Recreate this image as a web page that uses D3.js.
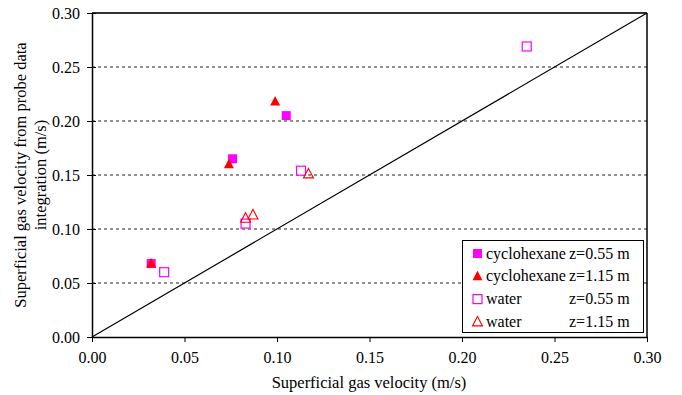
<!DOCTYPE html>
<html>
<head>
<meta charset="utf-8">
<script src="https://cdn.jsdelivr.net/npm/d3@7"></script>
<style>
  body { margin: 0; background: #fff; }
  svg text { font-family: "Liberation Serif", "DejaVu Serif", serif; }
</style>
</head>
<body>
<svg id="chart" width="682" height="395"></svg>
<script>
(function () {
  'use strict';

  // data (m/s)
  var cycloLowX = [0.032, 0.076, 0.105];
  var cycloLowY = [0.068, 0.165, 0.205];
  var cycloHighX = [0.032, 0.074, 0.099];
  var cycloHighY = [0.068, 0.160, 0.218];
  var waterLowX = [0.039, 0.083, 0.113, 0.235];
  var waterLowY = [0.060, 0.105, 0.154, 0.269];
  var waterHighX = [0.083, 0.087, 0.117];
  var waterHighY = [0.110, 0.113, 0.151];

  var tickValues = [0, 0.05, 0.10, 0.15, 0.20, 0.25, 0.30];
  var legendNames = ['cyclohexane', 'cyclohexane', 'water', 'water'];
  var legendZ = ['z=0.55 m', 'z=1.15 m', 'z=0.55 m', 'z=1.15 m'];

  var magenta = '#ff00ff';
  var red = '#ff0000';
  var serif = '"Liberation Serif", "DejaVu Serif", serif';

  var series = [
    { xs: cycloLowX, ys: cycloLowY, shape: 'square', filled: true, color: magenta },
    { xs: cycloHighX, ys: cycloHighY, shape: 'triangle', filled: true, color: red },
    { xs: waterLowX, ys: waterLowY, shape: 'square', filled: false, color: magenta },
    { xs: waterHighX, ys: waterHighY, shape: 'triangle', filled: false, color: red }
  ];

  var left = 92, right = 647, top = 13, bottom = 337;
  var svg = d3.select('#chart');

  var x = d3.scaleLinear().domain([0, 0.30]).range([left, right]);
  var y = d3.scaleLinear().domain([0, 0.30]).range([bottom, top]);

  // dashed grid
  svg.append('g').selectAll('line')
    .data(tickValues.filter(function (t) { return t > 0 && t < 0.3; }))
    .enter().append('line')
    .attr('x1', left).attr('x2', right)
    .attr('y1', function (d) { return y(d); })
    .attr('y2', function (d) { return y(d); })
    .attr('stroke', '#222').attr('stroke-width', 1)
    .attr('stroke-dasharray', '3,3');

  // frame
  svg.append('line').attr('x1', left).attr('x2', right).attr('y1', top).attr('y2', top)
    .attr('stroke', '#333').attr('stroke-width', 2);
  svg.append('line').attr('x1', right).attr('x2', right).attr('y1', top).attr('y2', bottom)
    .attr('stroke', '#000').attr('stroke-width', 1.5);

  // 1:1 line
  svg.append('line')
    .attr('x1', x(0)).attr('y1', y(0)).attr('x2', x(0.30)).attr('y2', y(0.30))
    .attr('stroke', '#000').attr('stroke-width', 1.2);

  var fmt = d3.format('.2f');

  var xAxis = svg.append('g').attr('transform', 'translate(0,' + bottom + ')')
    .call(d3.axisBottom(x).tickValues(tickValues).tickFormat(fmt).tickSize(5).tickSizeOuter(0));
  var yAxis = svg.append('g').attr('transform', 'translate(' + left + ',0)')
    .call(d3.axisLeft(y).tickValues(tickValues).tickFormat(fmt).tickSize(5).tickSizeOuter(0));

  [xAxis, yAxis].forEach(function (a) {
    a.attr('font-family', serif).attr('font-size', 16);
    a.select('.domain').attr('stroke', '#000').attr('stroke-width', 1.5);
    a.selectAll('line').attr('stroke', '#000');
    a.selectAll('text').attr('fill', '#000');
  });
  xAxis.selectAll('text').attr('dy', '1.1em');
  yAxis.selectAll('text').attr('x', -12);
  // y ticks cross the axis
  yAxis.selectAll('.tick line').attr('x1', 4);

  function drawMark(g, shape, filled, color, cx, cy) {
    if (shape === 'square') {
      g.append('rect')
        .attr('x', cx - 4.5).attr('y', cy - 4.5).attr('width', 9).attr('height', 9)
        .attr('fill', filled ? color : '#fff').attr('stroke', color).attr('stroke-width', filled ? 0 : 1.2);
    } else {
      var pts = [[cx, cy - 5.5], [cx + 5, cy + 4], [cx - 5, cy + 4]];
      g.append('polygon')
        .attr('points', pts.map(function (p) { return p.join(','); }).join(' '))
        .attr('fill', filled ? color : 'none').attr('stroke', color).attr('stroke-width', filled ? 0 : 1.1);
    }
  }

  var marks = svg.append('g');
  series.forEach(function (s) {
    s.xs.forEach(function (v, i) {
      drawMark(marks, s.shape, s.filled, s.color, x(v), y(s.ys[i]));
    });
  });

  // legend
  var lg = svg.append('g').attr('font-family', serif).attr('font-size', 16);
  lg.append('rect').attr('x', 462.5).attr('y', 240.5).attr('width', 181).attr('height', 92)
    .attr('fill', '#fff').attr('stroke', '#000').attr('stroke-width', 1);
  series.forEach(function (s, i) {
    var ly = 253.5 + i * 22.8;
    drawMark(lg, s.shape, s.filled, s.color, 477.5, ly);
    lg.append('text').attr('x', 486).attr('y', ly + 5).text(legendNames[i]);
    lg.append('text').attr('x', 569).attr('y', ly + 5).text(legendZ[i]);
  });

  // axis titles
  svg.append('text').attr('x', 369).attr('y', 388).attr('text-anchor', 'middle')
    .attr('font-family', serif).attr('font-size', 16.5).text('Superficial gas velocity (m/s)');
  var yt = svg.append('text').attr('text-anchor', 'middle')
    .attr('font-family', serif).attr('font-size', 16.5)
    .attr('transform', 'translate(26,175) rotate(-90)');
  yt.append('tspan').attr('x', 0).attr('dy', 0).text('Superficial gas velocity from probe data');
  yt.append('tspan').attr('x', 0).attr('dy', 20).text('integration (m/s)');
})();
</script>
</body>
</html>
